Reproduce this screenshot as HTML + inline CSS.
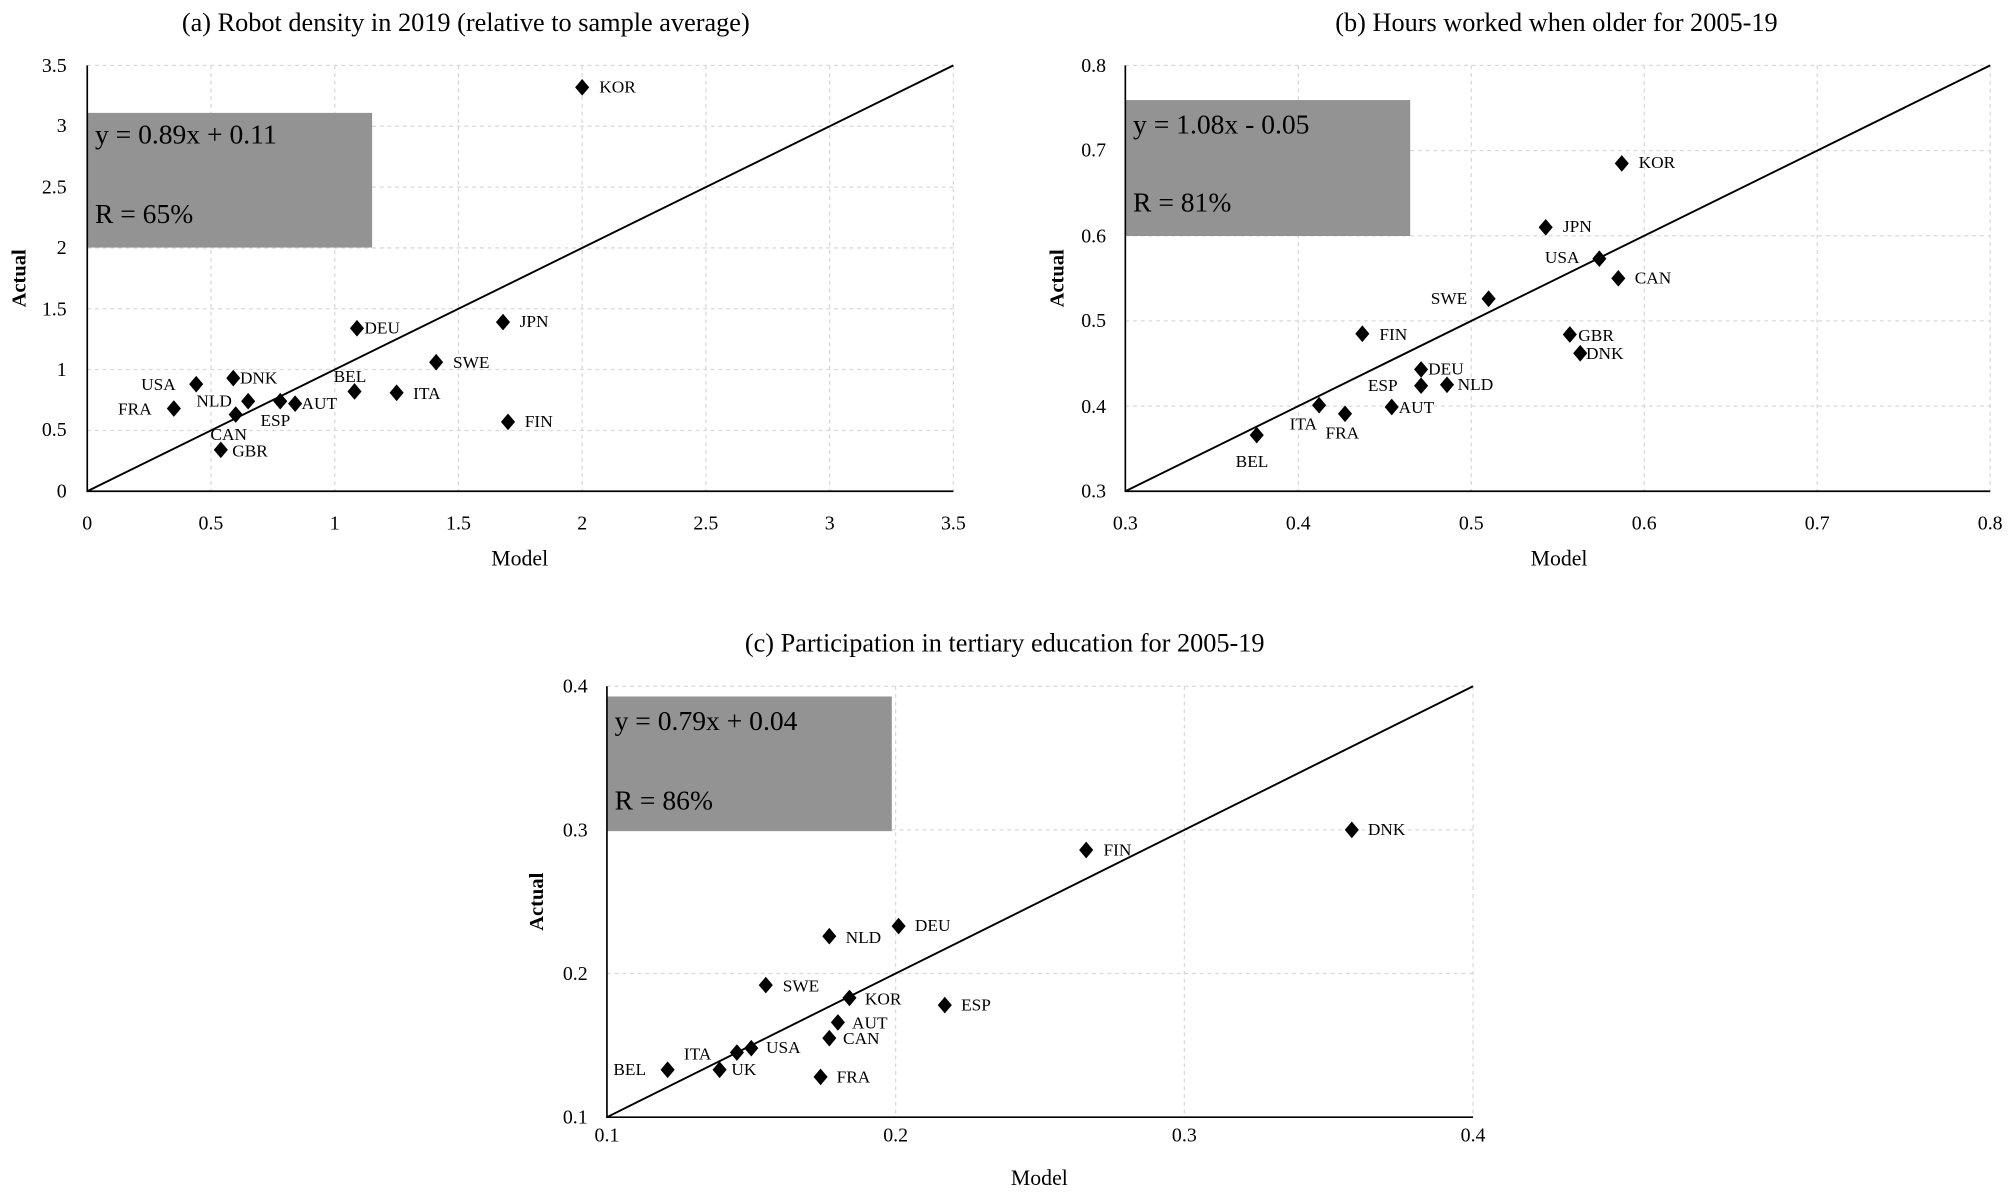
<!DOCTYPE html>
<html><head><meta charset="utf-8"><style>
html,body{margin:0;padding:0;background:#fff}
svg{display:block}
text{font-family:"Liberation Serif",serif;fill:#000}
.t{font-size:20.5px;text-anchor:middle}
.tk{font-size:15.5px}
.l{font-size:13.5px}
.bx{font-size:21.5px}
.g{stroke:#d9d9d9;stroke-width:1;stroke-dasharray:3,3;fill:none}
.ax{stroke:#000;stroke-width:1.3;fill:none}
.fit{stroke:#000;stroke-width:1.5;fill:none}
.al{font-size:17px}
</style></head><body>
<svg width="2012" height="1198" viewBox="0 0 1568 934" preserveAspectRatio="none" xmlns="http://www.w3.org/2000/svg">
<defs><path id="d" d="M0,-6.5L5.5,0L0,6.5L-5.5,0Z" fill="#000"/></defs>

<!-- Chart A -->
<text class="t" x="363" y="24">(a) Robot density in 2019 (relative to sample average)</text>
<g class="g">
<path d="M164.4,51V383M260.9,51V383M357.3,51V383M453.7,51V383M550.1,51V383M646.6,51V383M743,51V383"/>
<path d="M68,51H743M68,98.4H743M68,145.9H743M68,193.3H743M68,240.7H743M68,288.1H743M68,335.6H743"/>
</g>
<rect x="68" y="88" width="222" height="105" fill="#939393"/>
<text class="bx" x="74" y="112">y = 0.89x + 0.11</text>
<text class="bx" x="74" y="174">R = 65%</text>
<path class="ax" d="M68,51V383H743"/>
<path class="fit" d="M68,383L743,51"/>
<g class="tk" text-anchor="end">
<text x="52" y="388">0</text><text x="52" y="340">0.5</text><text x="52" y="293">1</text><text x="52" y="246">1.5</text><text x="52" y="198">2</text><text x="52" y="151">2.5</text><text x="52" y="103">3</text><text x="52" y="56">3.5</text>
</g>
<g class="tk" text-anchor="middle">
<text x="68" y="413">0</text><text x="164.4" y="413">0.5</text><text x="260.9" y="413">1</text><text x="357.3" y="413">1.5</text><text x="453.7" y="413">2</text><text x="550.1" y="413">2.5</text><text x="646.6" y="413">3</text><text x="743" y="413">3.5</text>
</g>
<text class="al" x="405" y="441" text-anchor="middle">Model</text>
<text x="20" y="217" transform="rotate(-90 20 217)" text-anchor="middle" style="font-size:16px;font-weight:bold">Actual</text>
<use href="#d" x="453.7" y="68.1"/><text class="l" x="467" y="72">KOR</text>
<use href="#d" x="392" y="251.1"/><text class="l" x="405" y="255">JPN</text>
<use href="#d" x="278.2" y="255.9"/><text class="l" x="284" y="260">DEU</text>
<use href="#d" x="339.9" y="282.4"/><text class="l" x="353" y="287">SWE</text>
<use href="#d" x="309.1" y="306.2"/><text class="l" x="322" y="311">ITA</text>
<use href="#d" x="276.3" y="305.2"/><text class="l" x="260" y="298">BEL</text>
<use href="#d" x="395.9" y="328.9"/><text class="l" x="409" y="333">FIN</text>
<use href="#d" x="152.9" y="299.5"/><text class="l" x="110" y="304">USA</text>
<use href="#d" x="181.8" y="294.8"/><text class="l" x="187" y="299">DNK</text>
<use href="#d" x="193.4" y="312.8"/><text class="l" x="153" y="317">NLD</text>
<use href="#d" x="218.4" y="312.8"/><text class="l" x="203" y="332">ESP</text>
<use href="#d" x="230" y="314.7"/><text class="l" x="235" y="319">AUT</text>
<use href="#d" x="183.7" y="323.2"/><text class="l" x="164" y="343">CAN</text>
<use href="#d" x="135.5" y="318.5"/><text class="l" x="92" y="323">FRA</text>
<use href="#d" x="172.1" y="350.7"/><text class="l" x="181" y="356">GBR</text>

<!-- Chart B -->
<text class="t" x="1213" y="24">(b) Hours worked when older for 2005-19</text>
<g class="g">
<path d="M1011.8,51V383M1146.6,51V383M1281.4,51V383M1416.2,51V383M1551,51V383"/>
<path d="M877,51H1551M877,117.4H1551M877,183.8H1551M877,250.2H1551M877,316.6H1551"/>
</g>
<rect x="877" y="78" width="222" height="106" fill="#939393"/>
<text class="bx" x="883" y="104">y = 1.08x - 0.05</text>
<text class="bx" x="883" y="165">R = 81%</text>
<path class="ax" d="M877,51V383H1551"/>
<path class="fit" d="M877,383L1551,51"/>
<g class="tk" text-anchor="end">
<text x="862" y="388">0.3</text><text x="862" y="322">0.4</text><text x="862" y="255">0.5</text><text x="862" y="189">0.6</text><text x="862" y="122">0.7</text><text x="862" y="56">0.8</text>
</g>
<g class="tk" text-anchor="middle">
<text x="877" y="413">0.3</text><text x="1011.8" y="413">0.4</text><text x="1146.6" y="413">0.5</text><text x="1281.4" y="413">0.6</text><text x="1416.2" y="413">0.7</text><text x="1551" y="413">0.8</text>
</g>
<text class="al" x="1215" y="441" text-anchor="middle">Model</text>
<text x="829" y="217" transform="rotate(-90 829 217)" text-anchor="middle" style="font-size:16px;font-weight:bold">Actual</text>
<use href="#d" x="1263.9" y="127.4"/><text class="l" x="1277" y="131">KOR</text>
<use href="#d" x="1204.6" y="177.2"/><text class="l" x="1218" y="181">JPN</text>
<use href="#d" x="1246.4" y="201.7"/><text class="l" x="1204" y="205">USA</text>
<use href="#d" x="1261.2" y="217"/><text class="l" x="1274" y="221">CAN</text>
<use href="#d" x="1160.1" y="232.9"/><text class="l" x="1115" y="237">SWE</text>
<use href="#d" x="1061.7" y="260.2"/><text class="l" x="1075" y="265">FIN</text>
<use href="#d" x="1223.4" y="260.8"/><text class="l" x="1230" y="266">GBR</text>
<use href="#d" x="1231.5" y="275.4"/><text class="l" x="1236" y="280">DNK</text>
<use href="#d" x="1107.5" y="288"/><text class="l" x="1113" y="292">DEU</text>
<use href="#d" x="1107.5" y="300.7"/><text class="l" x="1066" y="305">ESP</text>
<use href="#d" x="1127.7" y="300"/><text class="l" x="1136" y="304">NLD</text>
<use href="#d" x="1084.6" y="317.3"/><text class="l" x="1090" y="322">AUT</text>
<use href="#d" x="1028" y="315.9"/><text class="l" x="1005" y="335">ITA</text>
<use href="#d" x="1048.2" y="322.6"/><text class="l" x="1033" y="342">FRA</text>
<use href="#d" x="979.4" y="339.2"/><text class="l" x="963" y="364">BEL</text>

<!-- Chart C -->
<text class="t" x="783" y="508">(c) Participation in tertiary education for 2005-19</text>
<g class="g">
<path d="M698,535V871M923,535V871M1148,535V871"/>
<path d="M473,535H1148M473,647H1148M473,759H1148"/>
</g>
<rect x="473" y="543" width="222" height="105" fill="#939393"/>
<text class="bx" x="479" y="569">y = 0.79x + 0.04</text>
<text class="bx" x="479" y="631">R = 86%</text>
<path class="ax" d="M473,535V871H1148"/>
<path class="fit" d="M473,871L1148,535"/>
<g class="tk" text-anchor="end">
<text x="458" y="876">0.1</text><text x="458" y="764">0.2</text><text x="458" y="652">0.3</text><text x="458" y="540">0.4</text>
</g>
<g class="tk" text-anchor="middle">
<text x="473" y="890">0.1</text><text x="698" y="890">0.2</text><text x="923" y="890">0.3</text><text x="1148" y="890">0.4</text>
</g>
<text class="al" x="810" y="924" text-anchor="middle">Model</text>
<text x="423" y="703" transform="rotate(-90 423 703)" text-anchor="middle" style="font-size:16px;font-weight:bold">Actual</text>
<use href="#d" x="1053.5" y="647"/><text class="l" x="1066" y="651">DNK</text>
<use href="#d" x="846.5" y="662.7"/><text class="l" x="860" y="667">FIN</text>
<use href="#d" x="700.3" y="722"/><text class="l" x="713" y="726">DEU</text>
<use href="#d" x="646.3" y="729.9"/><text class="l" x="659" y="735">NLD</text>
<use href="#d" x="596.8" y="768"/><text class="l" x="610" y="773">SWE</text>
<use href="#d" x="662" y="778"/><text class="l" x="674" y="783">KOR</text>
<use href="#d" x="736.3" y="783.6"/><text class="l" x="749" y="788">ESP</text>
<use href="#d" x="653" y="797.1"/><text class="l" x="664" y="802">AUT</text>
<use href="#d" x="646.3" y="809.4"/><text class="l" x="657" y="814">CAN</text>
<use href="#d" x="585.5" y="817.2"/><text class="l" x="597" y="821">USA</text>
<use href="#d" x="574.3" y="820.6"/><text class="l" x="533" y="826">ITA</text>
<use href="#d" x="560.8" y="834"/><text class="l" x="570" y="838">UK</text>
<use href="#d" x="520.3" y="834"/><text class="l" x="478" y="838">BEL</text>
<use href="#d" x="639.5" y="839.6"/><text class="l" x="652" y="844">FRA</text>
</svg>
</body></html>
